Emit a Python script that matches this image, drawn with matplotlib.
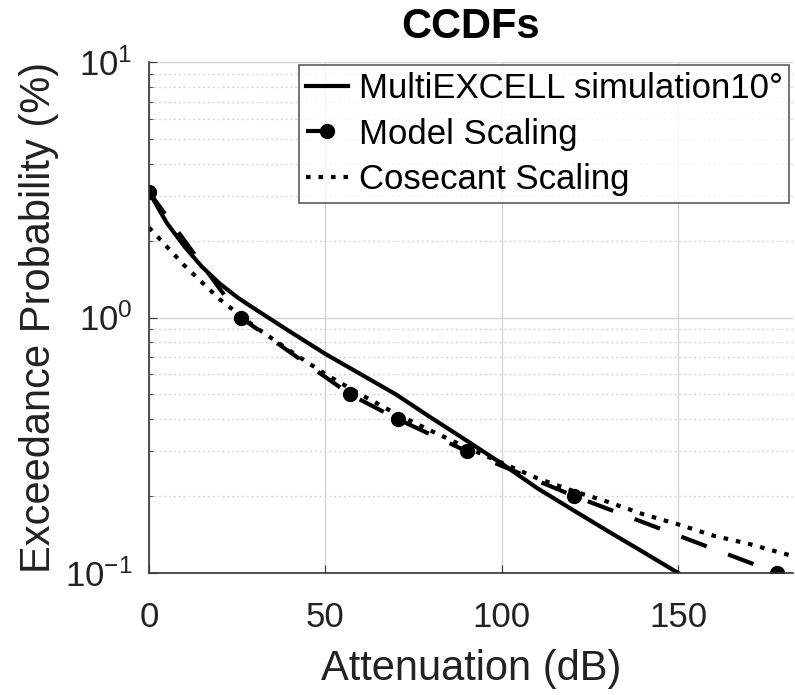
import numpy as np
import matplotlib
matplotlib.use("Agg")
import matplotlib.pyplot as plt
from matplotlib.ticker import LogLocator, FixedLocator, NullFormatter

plt.rcParams['font.family'] = ['Liberation Sans', 'DejaVu Sans']

# MultiEXCELL simulation (solid)
sim_att = [0, 5, 10, 15, 20, 25, 30, 40, 50, 60, 70, 80, 90, 100, 110, 120, 130, 140, 150]
sim_prob = [3.1, 2.35, 1.9, 1.58, 1.36, 1.2, 1.08, 0.88, 0.72, 0.6, 0.5, 0.405, 0.33, 0.268, 0.215, 0.177, 0.146, 0.121, 0.1]

# Model scaling (dashed with markers)
mod_att = [0, 26, 57, 70.5, 90, 120.5, 178]
mod_prob = [3.1, 1.0, 0.5, 0.4, 0.3, 0.2, 0.1]

# Cosecant scaling (dotted)
cos_att = [0, 10, 20, 30, 40, 50, 60, 70, 80, 90, 100, 110, 120, 130, 140, 150, 160, 170, 182]
cos_prob = [2.25, 1.6, 1.18, 0.92, 0.74, 0.6, 0.5, 0.42, 0.36, 0.31, 0.27, 0.235, 0.21, 0.19, 0.17, 0.155, 0.14, 0.13, 0.117]

fig = plt.figure(figsize=(7.95, 6.95), dpi=100)
ax = fig.add_axes([0.1874, 0.1755, 0.81, 0.7353])

ax.semilogy(sim_att, sim_prob, '-', color='k', lw=3.0, label='MultiEXCELL simulation10°')
ax.semilogy(mod_att, mod_prob, '--', color='k', lw=3.0, marker='o', ms=10,
            dashes=(6.5, 5.5), label='Model Scaling')
ax.semilogy(cos_att, cos_prob, ':', color='k', lw=3.0, dashes=(1.1, 1.9),
            label='Cosecant Scaling')

ax.set_xlim(0, 182.5)
ax.set_ylim(0.1, 10)
ax.xaxis.set_major_locator(FixedLocator([0, 50, 100, 150]))
ax.yaxis.set_major_locator(FixedLocator([0.1, 1, 10]))
ax.set_yticklabels([r'$\mathregular{10^{-1}}$', r'$\mathregular{10^{0}}$', r'$\mathregular{10^{1}}$'])
ax.yaxis.set_minor_locator(LogLocator(base=10, subs=np.arange(2, 10), numticks=20))
ax.yaxis.set_minor_formatter(NullFormatter())

ax.grid(True, which='major', color='#d6d6d6', lw=1.0, ls='-')
ax.grid(True, which='minor', axis='y', color='#d6d6d6', lw=1.0, ls=(0, (1.5, 2)))
ax.set_axisbelow(True)

for s in ['top', 'right']:
    ax.spines[s].set_visible(False)
for s in ['left', 'bottom']:
    ax.spines[s].set_color('#333333')
    ax.spines[s].set_linewidth(1.2)

ax.tick_params(which='both', direction='in', colors='#333333', labelcolor='#222222',
               labelsize=25)
ax.tick_params(which='major', length=6)
ax.tick_params(which='minor', length=3)
ax.tick_params(axis='x', pad=20)
ax.tick_params(axis='y', pad=12)

ax.set_xlabel('Attenuation (dB)', fontsize=30, color='#222222', labelpad=11)
ax.set_ylabel('Exceedance Probability (%)', fontsize=30, color='#222222', labelpad=4)
ax.set_title('CCDFs', fontsize=30, fontweight='bold', pad=17)

leg = ax.legend(loc='upper right', fontsize=25, frameon=True, fancybox=False,
                edgecolor='#333333', handlelength=1.2, handletextpad=0.3,
                borderpad=0.2, labelspacing=0.35, borderaxespad=0.1)
leg.get_frame().set_linewidth(1.2)

fig.savefig('out.png', dpi=100)
